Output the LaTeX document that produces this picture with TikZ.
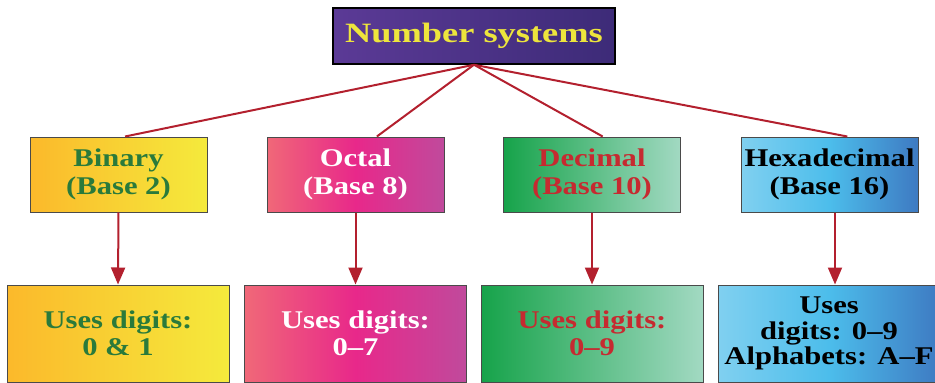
\documentclass[tikz,border=0pt]{standalone}
\usepackage{fontspec}
\usetikzlibrary{arrows.meta,calc}
\newfontfamily\titlefont[FakeStretch=1.3,Ligatures=TeX]{Liberation Serif}
\newfontfamily\boxfont[FakeStretch=1.2,Ligatures=TeX]{Liberation Serif}
\definecolor{purpL}{HTML}{5B3A96}
\definecolor{purpR}{HTML}{3D2B78}
\definecolor{titleyel}{HTML}{EDE53C}
\definecolor{binL}{HTML}{FBB92B}
\definecolor{binR}{HTML}{F5EA3C}
\definecolor{bintext}{HTML}{2A7A3B}
\definecolor{octL}{HTML}{F06878}
\definecolor{octM}{HTML}{E8288A}
\definecolor{octR}{HTML}{C04A9C}
\definecolor{decL}{HTML}{16A34A}
\definecolor{decR}{HTML}{A2D9C2}
\definecolor{dectext}{HTML}{C62A30}
\definecolor{hexL}{HTML}{80D0F0}
\definecolor{hexM}{HTML}{4CBDEB}
\definecolor{hexR}{HTML}{3E7AC2}
\definecolor{linered}{HTML}{B3202E}
\definecolor{boxborder}{HTML}{4A4A4A}
\tikzset{
  base/.style={draw=boxborder, line width=1pt, align=center, inner sep=0pt},
  lvltwo/.style={base, minimum width=177pt, minimum height=75pt,
    font=\boxfont\bfseries\fontsize{25.5}{27.5}\selectfont},
  lvlthree/.style={base, minimum width=222pt, minimum height=97pt,
    font=\boxfont\bfseries\fontsize{25.5}{26.5}\selectfont},
  binfill/.style={left color=binL, right color=binR, text=bintext},
  octfill/.style={left color=octL, right color=octR, middle color=octM, text=white},
  decfill/.style={left color=decL, right color=decR, text=dectext},
  hexfill/.style={left color=hexL, right color=hexR, middle color=hexM, text=black},
  link/.style={draw=linered, line width=2pt},
  arr/.style={link, -{Triangle[width=14pt,length=17pt]}}
}
\begin{document}
\begin{tikzpicture}[x=1pt,y=-1pt]
\useasboundingbox (0,0) rectangle (935,383);
\node[draw=black, line width=1.5pt, left color=purpL, right color=purpR,
  minimum width=282pt, minimum height=56pt, inner sep=0pt, text=titleyel,
  font=\titlefont\bfseries\fontsize{28}{30}\selectfont] (title) at (474,36) {Number systems};

\node[lvltwo, binfill] (bin) at (118.5,174.5) {Binary\\(Base 2)};
\node[lvltwo, octfill] (oct) at (355.5,174.5) {Octal\\(Base 8)};
\node[lvltwo, decfill] (dec) at (592,174.5) {Decimal\\(Base 10)};
\node[lvltwo, hexfill] (hex) at (829.5,174.5) {Hexadecimal\\(Base 16)};

\node[lvlthree, binfill] (binu) at (118,333.5) {Uses digits:\\0 \& 1};
\node[lvlthree, octfill] (octu) at (355.5,333.5) {Uses digits:\\0--7};
\node[lvlthree, decfill] (decu) at (592,333.5) {Uses digits:\\0--9};
\node[lvlthree, hexfill, font=\boxfont\bfseries\fontsize{25.5}{25.5}\selectfont] (hexu) at (829,333.5) {Uses\\digits: 0--9\\Alphabets: A--F};

\draw[link] (title.south) -- ($(bin.north west)!0.537!(bin.north east)$);
\draw[link] (title.south) -- ($(oct.north west)!0.62!(oct.north east)$);
\draw[link] (title.south) -- ($(dec.north west)!0.56!(dec.north east)$);
\draw[link] (title.south) -- ($(hex.north west)!0.6!(hex.north east)$);

\draw[arr] (bin.south) -- (binu.north);
\draw[arr] (oct.south) -- (octu.north);
\draw[arr] (dec.south) -- (decu.north);
\draw[arr] ([xshift=5.5pt]hex.south) -- ([xshift=6pt]hexu.north);
\end{tikzpicture}
\end{document}
